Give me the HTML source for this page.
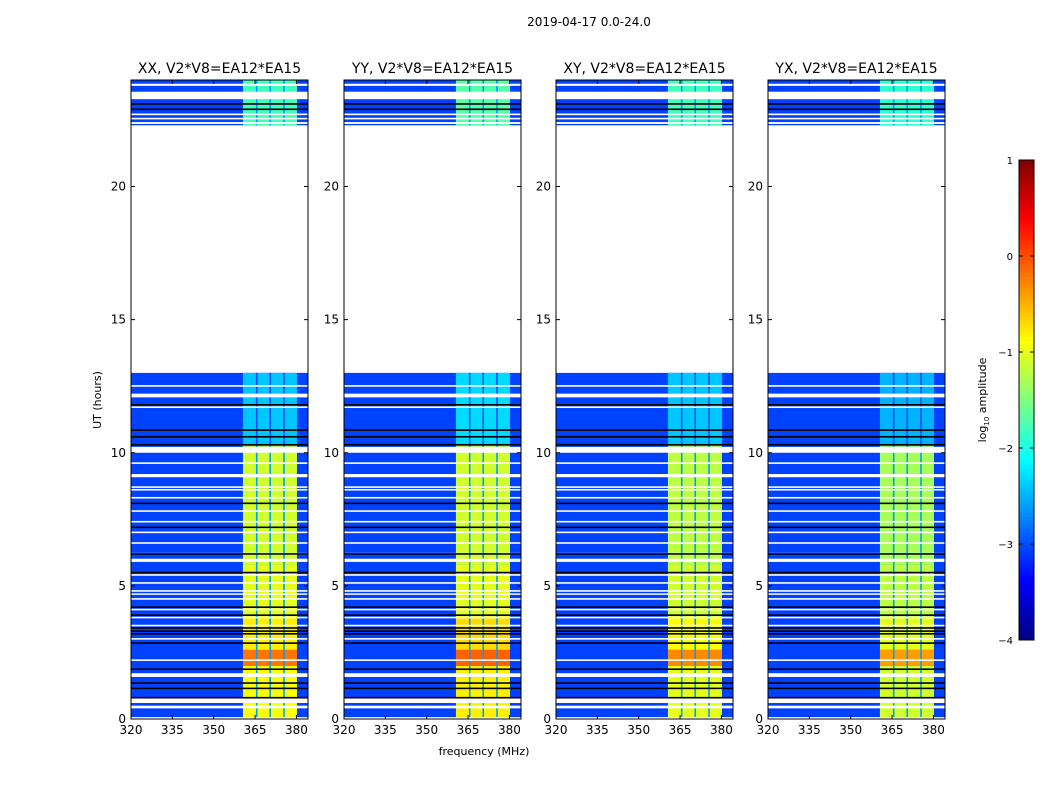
<!DOCTYPE html>
<html><head><meta charset="utf-8"><style>
html,body{margin:0;padding:0;background:#fff;width:1050px;height:800px;overflow:hidden}
text{font-family:"DejaVu Sans","Liberation Sans",sans-serif;fill:#000}
</style></head><body>
<svg id="fig" width="1050" height="800" xmlns="http://www.w3.org/2000/svg">
<text x="589" y="26" font-size="12" text-anchor="middle">2019-04-17 0.0-24.0</text>
<text x="484" y="755" font-size="11" text-anchor="middle">frequency (MHz)</text>
<text transform="translate(101,400) rotate(-90)" font-size="11" text-anchor="middle">UT (hours)</text>
<text transform="translate(986,400) rotate(-90)" font-size="11" text-anchor="middle">log<tspan font-size="7" dy="3">10</tspan><tspan dy="-3"> amplitude</tspan></text>
<g id="panels"></g>
<g id="cbar"></g>
</svg>
<script>
const panelTitles = ["XX, V2*V8=EA12*EA15","YY, V2*V8=EA12*EA15","XY, V2*V8=EA12*EA15","YX, V2*V8=EA12*EA15"];
const xTicks = [320,335,350,365,380];
const yTicks = [0,5,10,15,20];
const dataSegments = [[0,13.0],[22.3,24]];
const backgroundLevel = -3.05;
const bandFreq = [360.6,380.2];
const dividerFreqs = [365.6,370.5,375.5];
const bandSegStart = [0,2.0,2.6,3.8,5.8,10.25,22.3];
const bandSegEnd = [2.0,2.6,3.8,5.8,10.25,13.0,24];
const bandLevelXX = [-0.9,-0.2,-0.8,-1.0,-1.1,-2.4,-1.8];
const bandLevelYY = [-0.8,-0.1,-0.7,-1.0,-1.1,-2.3,-1.7];
const bandLevelXY = [-1.0,-0.3,-0.9,-1.1,-1.2,-2.4,-1.8];
const bandLevelYX = [-1.1,-0.4,-1.0,-1.2,-1.3,-2.5,-1.9];
const bandLevels = [bandLevelXX,bandLevelYY,bandLevelXY,bandLevelYX];
const whiteStart = [0.0,0.4,0.6,1.58,2.18,2.98,3.48,3.78,4.08,4.48,4.68,4.78,5.08,5.38,5.9,6.18,6.58,6.98,7.38,7.78,8.28,8.58,8.68,9.08,9.58,10.0,11.68,12.08,12.48,22.35,22.52,22.68,23.28,23.78];
const whiteEnd =   [0.07,0.5,0.78,1.72,2.24,3.04,3.54,3.84,4.14,4.54,4.72,4.84,5.14,5.44,6.02,6.24,6.64,7.04,7.44,7.84,8.34,8.64,8.74,9.2,9.64,10.22,11.74,12.22,12.54,22.42,22.58,22.74,23.56,23.86];
const blackLines = [0.8,1.15,1.35,1.87,2.85,3.2,3.3,3.42,3.9,4.2,5.5,6.2,7.2,8.1,10.3,10.6,10.85,11.8,22.9,23.1];

const NS='http://www.w3.org/2000/svg';
function jet(v){
  let t=Math.max(0,Math.min(1,(v+4)/5));
  const f=x=>Math.max(0,Math.min(1,x));
  const r=f(1.5-Math.abs(4*t-3)), g=f(1.5-Math.abs(4*t-2)), b=f(1.5-Math.abs(4*t-1));
  return `rgb(${Math.round(r*255)},${Math.round(g*255)},${Math.round(b*255)})`;
}
function mk(tag,attrs,parent){const e=document.createElementNS(NS,tag);for(const k in attrs)e.setAttribute(k,attrs[k]);parent.appendChild(e);return e;}
const panelsG=document.getElementById('panels');
const left=[131,344,556,768], W=177, top0=80, bottom=719;
const fMin=320,fMax=384.2,tMin=0,tMax=24;
panelTitles.forEach((title,p)=>{
  const x0=left[p];
  const xs=f=>x0+(f-fMin)/(fMax-fMin)*W;
  const ys=h=>bottom-(h-tMin)/(tMax-tMin)*(bottom-top0);
  const g=mk('g',{},panelsG);
  
  
  dataSegments.forEach(s=>{
    const r=mk('rect',{x:x0,y:ys(s[1]),width:W,height:ys(s[0])-ys(s[1]),fill:jet(backgroundLevel)},g);
    
    
  });
  bandSegStart.forEach((s,i)=>{
    const e=bandSegEnd[i];
    const lv=bandLevels[p][i];
    const r=mk('rect',{x:xs(bandFreq[0]),y:ys(e),width:xs(bandFreq[1])-xs(bandFreq[0]),height:ys(s)-ys(e),fill:jet(lv)},g);
    
    
    dividerFreqs.forEach(d=>{
      const q=mk('rect',{x:xs(d)-0.8,y:ys(e),width:1.6,height:ys(s)-ys(e),fill:jet(lv<-2.2?-3.0:-2.6)},g);
      
      
    });
  });
  whiteStart.forEach((s,i)=>{
    const e=whiteEnd[i];
    const r=mk('rect',{x:x0,y:ys(e),width:W,height:Math.max(1.5,ys(s)-ys(e)),fill:'#fff'},g);
    
    
  });
  blackLines.forEach(h=>{
    const r=mk('rect',{x:x0,y:ys(h)-0.8,width:W,height:1.6,fill:'#000'},g);
    
    
  });
  const b=mk('rect',{x:x0,y:top0,width:W,height:bottom-top0,fill:'none',stroke:'#000','stroke-width':1},g);
  
  
  const t=mk('text',{x:x0+W/2,y:73,'font-size':14,'text-anchor':'middle'},g);
  t.textContent=title;
  
  
  xTicks.forEach(v=>{
    const x=xs(v);
    mk('line',{x1:x,x2:x,y1:bottom,y2:bottom-4,stroke:'#000'},g);
    mk('line',{x1:x,x2:x,y1:top0,y2:top0+4,stroke:'#000'},g);
    const l=mk('text',{x:x,y:bottom+15,'font-size':12,'text-anchor':'middle'},g);
    l.textContent=v;
    
    
  });
  yTicks.forEach(v=>{
    const y=ys(v);
    mk('line',{x1:x0,x2:x0+4,y1:y,y2:y,stroke:'#000'},g);
    mk('line',{x1:x0+W,x2:x0+W-4,y1:y,y2:y,stroke:'#000'},g);
    const l=mk('text',{x:x0-5,y:y+4,'font-size':12,'text-anchor':'end'},g);
    l.textContent=v;
    
    
  });
});
const cbTicks=[1,0,-1,-2,-3,-4];
const cb=document.getElementById('cbar');


const cx=1019,cw=15,cTop=160,cBot=640,cMin=-4,cMax=1;
const cy=v=>cBot-(v-cMin)/(cMax-cMin)*(cBot-cTop);
for(let i=0;i<120;i++){
  const v0=cMin+i*(cMax-cMin)/120, v1=cMin+(i+1)*(cMax-cMin)/120;
  mk('rect',{x:cx,y:cy(v1),width:cw,height:cy(v0)-cy(v1)+0.5,fill:jet((v0+v1)/2)},cb);
}
mk('rect',{x:cx,y:cTop,width:cw,height:cBot-cTop,fill:'none',stroke:'#000'},cb);
cbTicks.forEach(v=>{
  const y=cy(v);
  mk('line',{x1:cx,x2:cx+4,y1:y,y2:y,stroke:'#000'},cb);
  mk('line',{x1:cx+cw,x2:cx+cw-4,y1:y,y2:y,stroke:'#000'},cb);
  const l=mk('text',{x:1013,y:y+4,'font-size':10,'text-anchor':'end'},cb);
  l.textContent=v<0?'\u2212'+Math.abs(v):String(v);
  
  
});
</script>
</body></html>
